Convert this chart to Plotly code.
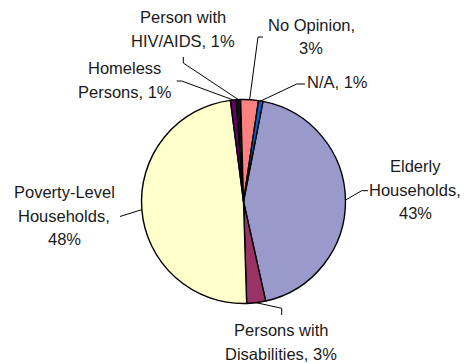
import math
import textwrap
import plotly.graph_objects as go

# ---- data (Excel series order, drawn clockwise) ----
categories = ["Elderly Households", "Persons with Disabilities", "Poverty-Level Households",
              "Homeless Persons", "Person with HIV/AIDS", "No Opinion", "N/A"]
values = [43.45, 3.0, 48.45, 0.9, 0.7, 2.8, 0.7]
colors = ["#9999CC", "#993366", "#FFFFCC", "#660066", "#111111", "#FF8080", "#0066CC"]

# ---- layout / style ----
W, H = 465, 364
CX, CY, R = 243.5, 201.5, 102.0
ROTATION = 11.0
FONT = "Liberation Sans, Arial, sans-serif"
FSIZE = 16.5
LINE_GAP = 23.5
wrap_width = [11, 16, 13, 12, 12, 11, 20]
# label centre (x, first-line y) in pixels
label_pos = [(415, 166), (281, 330), (64, 192), (125, 68), (183, 17), (311, 25), (337, 82)]
# leader line: elbow point and end point near label (pixels)
leader = [
    [(361.7, 190.7), (368, 190.7)],
    [(281.7, 308.3), (281.7, 315)],
    [(120, 216.5)],
    [(181.7, 81), (176.7, 81)],
    [(183.3, 63), (183.3, 57)],
    [(258, 37), (263, 37)],
    [(296.7, 84), (305, 84)],
]

def px(x):
    return x / W

def py(y):
    return 1 - y / H

fig = go.Figure(go.Pie(
    labels=categories, values=values, sort=False, direction="clockwise",
    rotation=ROTATION, textinfo="none", hoverinfo="skip",
    marker=dict(colors=colors, line=dict(color="#000000", width=1.4)),
    domain=dict(x=[px(CX - R), px(CX + R)], y=[py(CY + R), py(CY - R)]),
    showlegend=False,
))

total = sum(values)
annotations = []
shapes = []
start = ROTATION
for i, (cat, v) in enumerate(zip(categories, values)):
    span = v / total * 360
    mid = math.radians(start + span / 2)
    start += span
    ex, ey = CX + R * math.sin(mid), CY - R * math.cos(mid)
    pts = [(ex, ey)] + leader[i]
    path = "M " + " L ".join(f"{px(x):.5f},{py(y):.5f}" for x, y in pts)
    shapes.append(dict(type="path", path=path, xref="paper", yref="paper",
                       line=dict(color="#000000", width=1)))
    pct = round(v / total * 100)
    text = f"{cat}, {pct}%"
    lines = textwrap.wrap(text, wrap_width[i], break_on_hyphens=False)
    lx, ly = label_pos[i]
    for j, ln in enumerate(lines):
        annotations.append(dict(text=ln, x=px(lx), y=py(ly + j * LINE_GAP), xref="paper",
                                yref="paper", xanchor="center", yanchor="middle",
                                showarrow=False, font=dict(family=FONT, size=FSIZE, color="#1a1a1a")))

fig.update_layout(
    width=W, height=H, autosize=False,
    margin=dict(l=0, r=0, t=0, b=0),
    paper_bgcolor="white", plot_bgcolor="white",
    annotations=annotations, shapes=shapes,
)
fig.write_html("out.html", config={"displayModeBar": False},
               post_script="document.body.style.margin='0';document.body.style.overflow='hidden';")
